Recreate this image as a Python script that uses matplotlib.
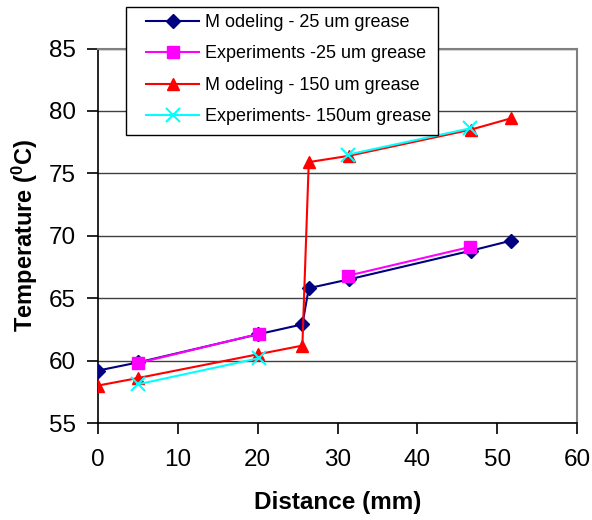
import matplotlib.pyplot as plt
from matplotlib.patches import Rectangle

plt.rcParams['font.family'] = ['Liberation Sans', 'DejaVu Sans']

nan = float('nan')

# Modeling - 25 um grease
x_mod25 = [0, 5, 20, 25.6, 26.4, 31.4, 46.7, 51.7]
y_mod25 = [59.2, 59.85, 62.1, 62.9, 65.8, 66.5, 68.8, 69.6]

# Experiments - 25 um grease (gap between the two measured sections)
x_exp25 = [5, 20.2, nan, 31.3, 46.6]
y_exp25 = [59.8, 62.15, nan, 66.8, 69.1]

# Modeling - 150 um grease
x_mod150 = [0, 5, 20, 25.6, 26.4, 31.4, 46.7, 51.7]
y_mod150 = [58.0, 58.6, 60.5, 61.2, 75.9, 76.4, 78.5, 79.4]

# Experiments - 150 um grease
x_exp150 = [5, 20.2, nan, 31.3, 46.6]
y_exp150 = [58.1, 60.2, nan, 76.5, 78.6]

labels = ['M odeling - 25 um grease', 'Experiments -25 um grease',
          'M odeling - 150 um grease', 'Experiments- 150um grease']

W, H = 592, 520
fig = plt.figure(figsize=(W / 100, H / 100), dpi=100)
ax = fig.add_axes([98 / W, 1 - 423 / H, (577 - 98) / W, (423 - 48.5) / H])

l1, = ax.plot(x_mod25, y_mod25, color='#000080', marker='D', markersize=7, lw=1.5, zorder=3)
l2, = ax.plot(x_exp25, y_exp25, color='#FF00FF', marker='s', markersize=8, lw=1.5, zorder=4)
l3, = ax.plot(x_mod150, y_mod150, color='#FF0000', marker='^', markersize=9, lw=1.5, zorder=3)
l4, = ax.plot(x_exp150, y_exp150, color='#00FFFF', marker='x', markersize=10, mew=1.5, lw=1.5, zorder=4)

ax.set_xlim(0, 60)
ax.set_ylim(55, 85)
ax.set_xticks(range(0, 61, 10))
ax.set_yticks(range(55, 86, 5))
ax.yaxis.grid(True, color='#404040', lw=1)
ax.set_axisbelow(True)

for s in ['top', 'right']:
    ax.spines[s].set_color('#808080')
    ax.spines[s].set_linewidth(1.5)
for s in ['left', 'bottom']:
    ax.spines[s].set_color('black')
    ax.spines[s].set_linewidth(1.2)
ax.tick_params(direction='out', length=8, width=1.2, labelsize=17.5, pad=8)
ax.tick_params(axis='x', pad=11)

ax.set_xlabel('Distance (mm)', fontsize=17.5, fontweight='bold', labelpad=14)
ax.set_ylabel('Temperature ($\\mathregular{^0}$C)', fontsize=17, fontweight='bold', labelpad=6)

# legend box drawn by hand so the entries can sit further in from the left edge
fig.patches.append(Rectangle((126 / W, 1 - 135 / H), (438 - 126) / W, (135 - 7) / H,
                             transform=fig.transFigure, facecolor='white',
                             edgecolor='black', lw=1.0, zorder=5))
leg = fig.legend([l1, l2, l3, l4], labels, loc='upper left',
                 bbox_to_anchor=(137 / W, 1 - 5 / H), borderaxespad=0,
                 fontsize=13, frameon=False, handlelength=2.95,
                 handletextpad=0.3, borderpad=0.5, labelspacing=0.8)
leg.set_zorder(6)

fig.savefig('out.png', dpi=100)
